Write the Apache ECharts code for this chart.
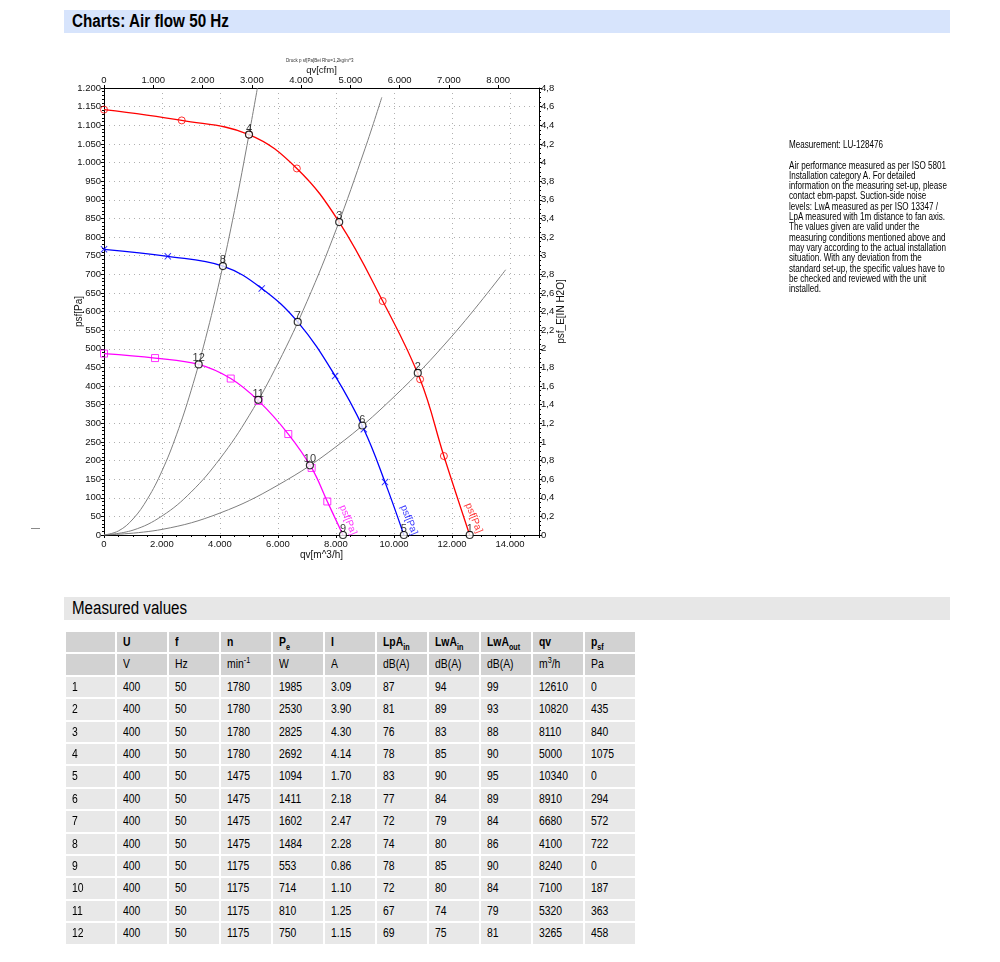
<!DOCTYPE html>
<html>
<head>
<meta charset="utf-8">
<script src="https://cdn.jsdelivr.net/npm/echarts@6/dist/echarts.min.js"></script>
<style>
  html, body { margin: 0; padding: 0; background: #fff; }
  body { width: 1000px; height: 962px; position: relative; overflow: hidden;
         font-family: "Liberation Sans", Arial, sans-serif; color: #000; }
  .bar { position: absolute; left: 64px; width: 886px; height: 23px; line-height: 23px; }
  .bar span { position: absolute; left: 8px; top: 0; white-space: nowrap; transform-origin: 0 50%; }
  #h1 { top: 10px; background: #d7e4fc; font-weight: bold; font-size: 18px; }
  #h2 { top: 597px; background: #e7e7e7; font-size: 18px; }
  #chart { position: absolute; left: 0; top: 0; width: 1000px; height: 580px; }
  #note { position: absolute; left: 789px; top: 140px; font-size: 10px; line-height: 10.3px; white-space: pre; color: #000; transform-origin: 0 0; }
  #dash { position: absolute; left: 31px; top: 528px; width: 9px; height: 1px; background: #8a8a8a; }
  table { position: absolute; left: 64px; top: 630px; border-collapse: separate; border-spacing: 2px; table-layout: fixed; font-size: 13px; }
  td { height: 20.4px; line-height: 20.4px; padding: 0 0 0 6px; background: #e8e8e8; white-space: nowrap; overflow: hidden; box-sizing: border-box; color: #000; }
  td span { display: inline-block; transform: scaleX(0.8); transform-origin: 0 50%; }
  tr.hd td { background: #d2d2d2; }
  tr.hd1 td { font-weight: bold; }
  sub, sup { font-size: 9px; line-height: 0; }
</style>
</head>
<body>
<div id="h1" class="bar"><span id="h1t">Charts: Air flow 50 Hz</span></div>
<div id="chart"></div>
<div id="dash"></div>
<div id="note"></div>
<div id="h2" class="bar"><span id="h2t">Measured values</span></div>
<table id="tbl">
  <colgroup><col style="width:49px"><col style="width:50px"><col style="width:50px"><col style="width:50px"><col style="width:50px"><col style="width:50px"><col style="width:50px"><col style="width:50px"><col style="width:50px"><col style="width:50px"><col style="width:50px"></colgroup>
  <tbody id="tbody"></tbody>
</table>
<script>
// ---------------- data ----------------
const pointNo   = ['1','2','3','4','5','6','7','8','9','10','11','12'];
const colU      = [400,400,400,400,400,400,400,400,400,400,400,400];
const colF      = [50,50,50,50,50,50,50,50,50,50,50,50];
const colN      = [1780,1780,1780,1780,1475,1475,1475,1475,1175,1175,1175,1175];
const colPe     = [1985,2530,2825,2692,1094,1411,1602,1484,553,714,810,750];
const colI      = ['3.09','3.90','4.30','4.14','1.70','2.18','2.47','2.28','0.86','1.10','1.25','1.15'];
const colLpAin  = [87,81,76,78,83,77,72,74,78,72,67,69];
const colLwAin  = [94,89,83,85,90,84,79,80,85,80,74,75];
const colLwAout = [99,93,88,90,95,89,84,86,90,84,79,81];
const colQv     = [12610,10820,8110,5000,10340,8910,6680,4100,8240,7100,5320,3265];
const colPsf    = [0,435,840,1075,0,294,572,722,0,187,363,458];

const headTop   = ['', 'U', 'f', 'n', 'P<sub>e</sub>', 'I', 'LpA<sub>in</sub>', 'LwA<sub>in</sub>', 'LwA<sub>out</sub>', 'qv', 'p<sub>sf</sub>'];
const headUnit  = ['', 'V', 'Hz', 'min<sup>-1</sup>', 'W', 'A', 'dB(A)', 'dB(A)', 'dB(A)', 'm<sup>3</sup>/h', 'Pa'];

// fan curves (qv m^3/h, psf Pa) and marker flags
const redQv   = [0, 2680, 5000, 6650, 8110, 9610, 10900, 11720, 12610];
const redP    = [1142, 1113, 1075, 984, 840, 628, 418, 212, 0];
const redMark = [1, 1, 1, 1, 0, 1, 1, 1, 0];
const blueQv   = [0, 2200, 4100, 5440, 6680, 7970, 8960, 9690, 10340];
const blueP    = [767, 748, 722, 662, 572, 427, 284, 142, 0];
const blueMark = [1, 1, 0, 1, 0, 1, 1, 1, 0];
const magQv   = [0, 1760, 3265, 4370, 5330, 6355, 7160, 7700, 8240];
const magP    = [487, 475, 458, 420, 360, 271, 180, 90, 0];
const magMark = [1, 1, 0, 1, 1, 1, 1, 1, 0];

// system curves
const sysAQv = [0, 500, 1000, 1500, 2000, 2500, 3000, 3500, 4000, 4500, 5000, 5290];
const sysAP  = [0, 11, 43, 97, 172, 269, 387, 527, 688, 871, 1075, 1200];
const sysBQv = [0, 1000, 2000, 3000, 4000, 5000, 6000, 7000, 8000, 9000, 9580];
const sysBP  = [0, 13, 51, 115, 205, 320, 461, 627, 819, 1037, 1175];
const sysCQv = [0, 2000, 4000, 6000, 8000, 10000, 12000, 13850];
const sysCP  = [0, 15, 59, 134, 237, 371, 534, 712];

const xTickM3h  = [0, 2000, 4000, 6000, 8000, 10000, 12000, 14000];
const curveName = 'psf[Pa]';

const noteTitle = 'Measurement: LU-128476';
const noteLines = [
 'Air performance measured as per ISO 5801',
 'Installation category A. For detailed',
 'information on the measuring set-up, please',
 'contact ebm-papst. Suction-side noise',
 'levels: LwA measured as per ISO 13347 /',
 'LpA measured with 1m distance to fan axis.',
 'The values given are valid under the',
 'measuring conditions mentioned above and',
 'may vary according to the actual installation',
 'situation. With any deviation from the',
 'standard set-up, the specific values have to',
 'be checked and reviewed with the unit',
 'installed.'
];

// ---------------- html parts ----------------
(function () {
  const tb = document.getElementById('tbody');
  let html = '<tr class="hd hd1">' + headTop.map(h => '<td><span>' + h + '</span></td>').join('') + '</tr>';
  html += '<tr class="hd">' + headUnit.map(h => '<td><span>' + h + '</span></td>').join('') + '</tr>';
  for (let i = 0; i < pointNo.length; i++) {
    const row = [pointNo[i], colU[i], colF[i], colN[i], colPe[i], colI[i], colLpAin[i], colLwAin[i], colLwAout[i], colQv[i], colPsf[i]];
    html += '<tr>' + row.map(v => '<td><span>' + v + '</span></td>').join('') + '</tr>';
  }
  tb.innerHTML = html;

  function fit(el, target) {
    const w = el.getBoundingClientRect().width;
    if (w > 0) el.style.transform = 'scaleX(' + (target / w) + ')';
  }
  fit(document.getElementById('h1t'), 157);
  fit(document.getElementById('h2t'), 115);
  const note = document.getElementById('note');
  const probe = document.createElement('span');
  probe.textContent = noteLines[0];
  note.appendChild(probe);
  const w0 = probe.getBoundingClientRect().width;
  note.textContent = noteTitle + '\n\n' + noteLines.join('\n');
  note.style.transform = 'scaleX(' + (157 / w0) + ')';
})();

// ---------------- chart ----------------
const M3H_PER_CFM = 1.69901;
const X_MAX = 15000, Y_MAX = 1200;
function thousands(v) {
  v = Math.round(v);
  if (v < 1000) return String(v);
  const r = v % 1000;
  return Math.floor(v / 1000) + '.' + String(r).padStart(3, '0');
}
function zip(a, b) { return a.map((x, i) => [x, b[i]]); }
function marks(a, b, f) { return a.map((x, i) => [x, b[i]]).filter((_, i) => f[i]); }
// convert a screen offset into the rotated label frame
function rotOffset(sx, sy, deg) {
  const t = -deg * Math.PI / 180; // clockwise angle
  const c = Math.cos(t), s = Math.sin(t);
  return [sx * c + sy * s, -sx * s + sy * c];
}

const FONT = 'Liberation Sans';
const axisLbl = { fontFamily: FONT, fontSize: 9.5, color: '#111' };
const nameStyle = { fontFamily: FONT, fontSize: 10, color: '#111' };
const crossPath = 'path://M0,1L1,0L5,4L9,0L10,1L6,5L10,9L9,10L5,6L1,10L0,9L4,5Z';
const LBL_ROT = -68;

const chart = echarts.init(document.getElementById('chart'), null, { renderer: 'canvas' });

function sysSeries(qv, p) {
  return { type: 'line', xAxisIndex: 0, yAxisIndex: 0, data: zip(qv, p), smooth: 0.4, symbol: 'none', silent: true,
           lineStyle: { color: '#7f7f7f', width: 1 }, z: 2 };
}
function fanSeries(qv, p, color) {
  return { type: 'line', xAxisIndex: 0, yAxisIndex: 0, data: zip(qv, p), smooth: 0.4, symbol: 'none', silent: true,
           lineStyle: { color: color, width: 1.3 }, z: 3 };
}
function markSeries(qv, p, f, color, symbol) {
  const isCross = symbol === 'cross';
  return { type: 'scatter', xAxisIndex: 0, yAxisIndex: 0, data: marks(qv, p, f), silent: true,
           symbol: isCross ? crossPath : symbol, symbolSize: 7,
           itemStyle: isCross ? { color: color } : { color: 'rgba(255,255,255,0)', borderColor: color, borderWidth: 1 }, z: 4 };
}
function nameSeries(qv, p, color, sx, sy) {
  const n = qv.length - 1;
  return { type: 'scatter', xAxisIndex: 0, yAxisIndex: 0, data: [[qv[n], p[n]]], silent: true,
           symbol: 'circle', symbolSize: 1, itemStyle: { color: 'rgba(0,0,0,0)' },
           label: { show: true, formatter: curveName, position: 'inside', rotate: LBL_ROT, offset: rotOffset(sx, sy, LBL_ROT),
                    color: color, fontFamily: FONT, fontSize: 10 }, z: 5 };
}

const option = {
  animation: false,
  backgroundColor: 'transparent',
  grid: { left: 104, top: 88, width: 435, height: 447, containLabel: false },
  graphic: [{
    type: 'text', left: 286, top: 58, silent: true,
    style: { text: 'Druck p sf[Pa]Bei Rho=1,2kg/m^3', fontFamily: FONT, fontSize: 4.5, fill: '#333' }
  }],
  xAxis: [{
    type: 'value', position: 'bottom', min: 0, max: X_MAX, interval: 2000,
    name: 'qv[m^3/h]', nameLocation: 'middle', nameGap: 15, nameMoveOverlap: false, nameTextStyle: nameStyle,
    axisLine: { show: true, onZero: false, lineStyle: { color: '#000', width: 1 } },
    axisTick: { show: true, length: 3, lineStyle: { color: '#000' } },
    minorTick: { show: true, splitNumber: 4, length: 2, lineStyle: { color: '#000' } },
    axisLabel: Object.assign({ margin: 4, showMaxLabel: false, formatter: v => (xTickM3h.indexOf(v) >= 0 ? thousands(v) : '') }, axisLbl),
    splitLine: { show: true, lineStyle: { color: '#b0b0b0', type: [1, 4], width: 1 } }
  }, {
    type: 'value', position: 'top', min: 0, max: X_MAX / M3H_PER_CFM, interval: 1000,
    name: 'qv[cfm]', nameLocation: 'middle', nameGap: 13, nameMoveOverlap: false,
    nameTextStyle: { fontFamily: FONT, fontSize: 9.5, color: '#111' },
    axisLine: { show: true, onZero: false, lineStyle: { color: '#000', width: 1 } },
    axisTick: { show: true, length: 3, lineStyle: { color: '#000' } },
    axisLabel: Object.assign({ margin: 3, showMaxLabel: false, formatter: v => (v % 1000 === 0 ? thousands(v) : '') }, axisLbl),
    splitLine: { show: false }
  }],
  yAxis: [{
    type: 'value', position: 'left', min: 0, max: Y_MAX, interval: 50,
    name: 'psf[Pa]', nameLocation: 'middle', nameGap: 20, nameRotate: 90, nameMoveOverlap: false, nameTextStyle: nameStyle,
    axisLine: { show: true, onZero: false, lineStyle: { color: '#000', width: 1 } },
    axisTick: { show: true, length: 3, lineStyle: { color: '#000' } },
    minorTick: { show: true, splitNumber: 5, length: 2, lineStyle: { color: '#000' } },
    axisLabel: Object.assign({ margin: 3, formatter: v => thousands(v) }, axisLbl),
    splitLine: { show: true, lineStyle: { color: '#b0b0b0', type: [1, 4], width: 1 } }
  }, {
    type: 'value', position: 'right', min: 0, max: 4.8, interval: 0.2,
    name: 'psf_E[IN H2O]', nameLocation: 'middle', nameGap: 17, nameRotate: 90, nameMoveOverlap: false, nameTextStyle: nameStyle,
    axisLine: { show: true, onZero: false, lineStyle: { color: '#000', width: 1 } },
    axisTick: { show: true, length: 3, lineStyle: { color: '#000' } },
    minorTick: { show: true, splitNumber: 4, length: 2, lineStyle: { color: '#000' } },
    axisLabel: Object.assign({ margin: 2, formatter: v => String(Math.round(v * 10) / 10).replace('.', ',') }, axisLbl),
    splitLine: { show: false }
  }],
  series: [
    sysSeries(sysAQv, sysAP),
    sysSeries(sysBQv, sysBP),
    sysSeries(sysCQv, sysCP),
    fanSeries(redQv, redP, '#ff0000'),
    fanSeries(blueQv, blueP, '#0000ff'),
    fanSeries(magQv, magP, '#ff00ff'),
    markSeries(redQv, redP, redMark, '#ff0000', 'circle'),
    markSeries(blueQv, blueP, blueMark, '#0000ff', 'cross'),
    markSeries(magQv, magP, magMark, '#ff00ff', 'rect'),
    nameSeries(redQv, redP, '#ff0000', 4, -17),
    nameSeries(blueQv, blueP, '#0000ff', 5, -15),
    nameSeries(magQv, magP, '#ff00ff', 5, -15),
    {
      type: 'scatter', xAxisIndex: 0, yAxisIndex: 0, silent: true, z: 6,
      data: colQv.map((q, i) => ({ value: [q, colPsf[i]], name: pointNo[i] })),
      symbol: 'circle', symbolSize: 7,
      itemStyle: { color: '#ffffff', borderColor: '#000', borderWidth: 1.2 },
      label: { show: true, formatter: '{b}', position: 'inside', offset: [0, -6], color: '#000', fontFamily: FONT, fontSize: 11 }
    }
  ]
};
chart.setOption(option);
</script>
</body>
</html>
